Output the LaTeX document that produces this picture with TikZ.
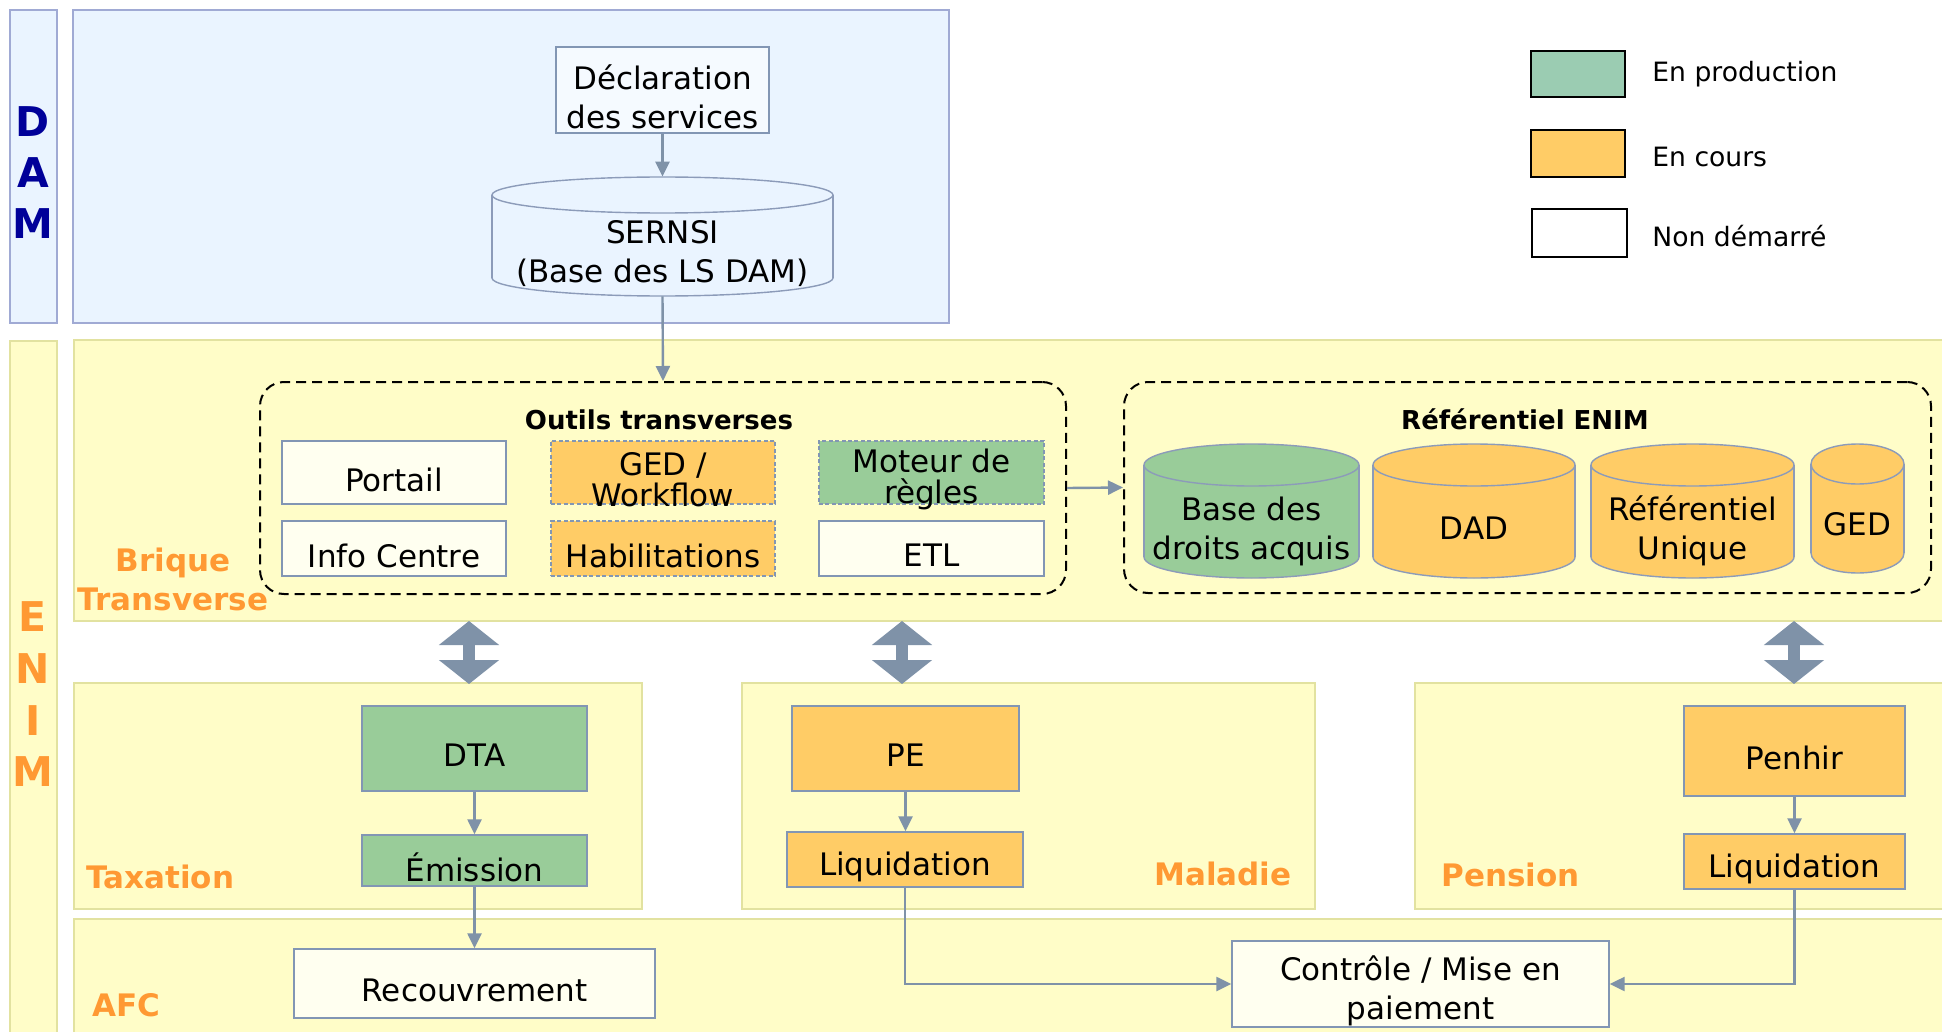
\documentclass[tikz,border=0pt]{standalone}
\usepackage{fontspec}
\setmainfont{DejaVu Sans}
\usetikzlibrary{fit,arrows.meta}
\definecolor{dambg}{RGB}{234,244,255}
\definecolor{damline}{RGB}{160,170,212}
\definecolor{declbg}{RGB}{245,250,255}
\definecolor{enimbg}{RGB}{255,253,200}
\definecolor{enimline}{RGB}{226,226,160}
\definecolor{ngreen}{RGB}{153,204,153}
\definecolor{lgreen}{RGB}{155,204,178}
\definecolor{norange}{RGB}{255,204,102}
\definecolor{ncream}{RGB}{255,255,240}
\definecolor{nline}{RGB}{130,150,180}
\definecolor{cylline}{RGB}{140,155,185}
\definecolor{arrowc}{RGB}{127,146,168}
\definecolor{lblorange}{RGB}{255,153,51}
\definecolor{damblue}{RGB}{0,0,153}
\newcommand\nodefnt{\fontsize{15.5}{19.5}\selectfont}
\newcommand\tightfnt{\fontsize{15.5}{15.5}\selectfont}
\newcommand\legfnt{\fontsize{13.3}{16}\selectfont}
\newcommand\titfnt{\bfseries\fontsize{13}{16}\selectfont}
\newcommand\lblfnt{\bfseries\fontsize{15.5}{19.5}\selectfont}
\newcommand\bigfnt{\bfseries\fontsize{20.5}{25}\selectfont}
\tikzset{
  damzone/.style={draw=damline, fill=dambg, line width=1.2pt, inner sep=0pt},
  enimzone/.style={draw=enimline, fill=enimbg, line width=0.6pt, inner sep=0pt},
  nbox/.style={draw=nline, line width=0.7pt, inner sep=0pt, align=center, font=\nodefnt},
  gbox/.style={nbox, fill=ngreen},
  obox/.style={nbox, fill=norange},
  wbox/.style={nbox, fill=ncream},
  dashedb/.style={dash pattern=on 2pt off 1.2pt},
  grp/.style={draw=black, line width=1pt, dash pattern=on 5pt off 3pt, rounded corners=12pt, inner sep=0pt},
  arr/.style={draw=arrowc, line width=1.2pt, -{Triangle[length=7.5pt,width=7pt]}},
  dblarr/.style={draw=arrowc, line width=6pt, {Triangle[length=12pt,width=29.5pt]}-{Triangle[length=12pt,width=29.5pt]}},
  lbl/.style={text=lblorange, font=\lblfnt, inner sep=0pt},
  bigletter/.style={font=\bigfnt, inner sep=0pt},
  titletext/.style={font=\titfnt, inner sep=0pt},
  legbox/.style={draw=black, line width=1pt, inner sep=0pt},
  legtxt/.style={font=\legfnt, inner sep=0pt, anchor=base west},
  cyltext/.style={font=\nodefnt, inner sep=0pt, align=center},
  plaintext/.style={draw=none, fill=none, minimum width=0pt, minimum height=0pt},
}
% rectangle node from pixel corners: style, name, x1, y1, x2, y2, text (text set 7px lower, as in the reference)
\newcommand\bx[7]{%
  \pgfmathsetmacro\bxcx{(#3+#5)/2}%
  \pgfmathsetmacro\bxcy{(#4+#6)/2}%
  \pgfmathsetmacro\bxw{(#5-#3)*0.5}%
  \pgfmathsetmacro\bxh{(#6-#4)*0.5}%
  \node[#1, minimum width=\bxw pt, minimum height=\bxh pt] (#2) at (\bxcx,\bxcy) {};%
  \node[#1, plaintext] (#2-t) at (\bxcx,{\bxcy+7}) {#7};%
}
% name, x1, x2, top-ellipse centre y, bottom-ellipse centre y, ry, fill, text y, text
\newcommand\mycyl[9]{%
  \pgfmathsetmacro\cylcx{(#2+#3)/2}%
  \pgfmathsetmacro\cylrx{(#3-#2)/2}%
  \filldraw[fill=#7, draw=cylline, line width=0.7pt] (\cylcx,#5) ellipse [x radius=\cylrx, y radius=#6];
  \fill[#7] (#2,#4) rectangle (#3,#5);
  \draw[cylline, line width=0.7pt] (#2,#4) -- (#2,#5) (#3,#4) -- (#3,#5);
  \filldraw[fill=#7, draw=cylline, line width=0.7pt] (\cylcx,#4) ellipse [x radius=\cylrx, y radius=#6];
  \node[inner sep=0pt, fit={(#2,{#4-#6}) (#3,{#5+#6})}] (#1) {};
  \node[cyltext] (#1-t) at (\cylcx,#8) {#9};
}
\begin{document}
\begin{tikzpicture}[x=0.5pt,y=-0.5pt]
\useasboundingbox (0,0) rectangle (1942,1032);
\clip (0,0) rectangle (1942,1032);
\fill[white] (0,0) rectangle (1942,1032);

% ---------- DAM ----------
\bx{damzone}{damside}{10}{10}{57}{323}{}
\node[bigletter, text=damblue] (dD) at (33,122) {D};
\node[bigletter, text=damblue] (dA) at (33,173) {A};
\node[bigletter, text=damblue] (dM) at (33,224) {M};
\bx{damzone}{dammain}{73}{10}{949}{323}{}
\bx{nbox, fill=declbg}{decl}{556}{47}{769}{133}{Déclaration\\des services}
\mycyl{sernsi}{492}{833}{195}{278}{18}{dambg}{254}{SERNSI\\(Base des LS DAM)}

% ---------- ENIM ----------
\bx{enimzone}{enimside}{10}{341}{57}{1045}{}
\node[bigletter, text=lblorange] (eE) at (33,617) {E};
\node[bigletter, text=lblorange] (eN) at (33,669) {N};
\node[bigletter, text=lblorange] (eI) at (33,721) {I};
\node[bigletter, text=lblorange] (eM) at (33,772) {M};

\bx{enimzone}{brique}{74}{340}{1950}{621}{}

% Outils transverses
\bx{grp}{outils}{260}{382}{1066}{594}{}
\node[titletext] (outilst) at (659,420) {Outils transverses};
\bx{wbox}{portail}{282}{441}{506}{504}{Portail}
\bx{obox, dashedb, font=\tightfnt}{ged}{551}{441}{775}{504}{GED /\\Workflow}
\bx{gbox, dashedb, font=\tightfnt}{moteur}{819}{441}{1044}{504}{Moteur de\\règles}
\bx{wbox}{infoc}{282}{521}{506}{576}{Info Centre}
\bx{obox, dashedb}{habil}{551}{521}{775}{576}{Habilitations}
\bx{wbox}{etl}{819}{521}{1044}{576}{ETL}

\node[lbl, align=center] (briquelbl) at (173,579) {Brique\\Transverse};

% Referentiel ENIM
\bx{grp}{referentiel}{1124}{382}{1931}{593}{}
\node[titletext] (reft) at (1525,419) {Référentiel ENIM};
\mycyl{bda}{1144}{1359}{465}{557}{21}{ngreen}{531}{Base des\\droits acquis}
\mycyl{dad}{1373}{1575}{465}{557}{21}{norange}{528}{DAD}
\mycyl{refu}{1591}{1794}{465}{557}{21}{norange}{531}{Référentiel\\Unique}
\mycyl{gedc}{1811}{1904}{464}{553}{20}{norange}{524}{GED}

% Domain areas
\bx{enimzone}{taxation}{74}{683}{642}{909}{}
\bx{enimzone}{maladie}{742}{683}{1315}{909}{}
\bx{enimzone}{pension}{1415}{683}{1950}{909}{}
\bx{enimzone}{afc}{74}{919}{1950}{1045}{}
\node[lbl, anchor=west] (taxl) at (86,877) {Taxation};
\node[lbl, anchor=east] (mall) at (1292,874) {Maladie};
\node[lbl, anchor=west] (penl) at (1441,875) {Pension};
\node[lbl, anchor=west] (afcl) at (92,1005) {AFC};

\bx{gbox}{dta}{362}{706}{587}{791}{DTA}
\bx{gbox}{emission}{362}{835}{587}{886}{Émission}
\bx{obox}{pe}{792}{706}{1019}{791}{PE}
\bx{obox}{liqm}{787}{832}{1023}{887}{Liquidation}
\bx{obox}{penhir}{1684}{706}{1905}{796}{Penhir}
\bx{obox}{liqp}{1684}{834}{1905}{889}{Liquidation}
\bx{wbox}{recouv}{294}{949}{655}{1018}{Recouvrement}
\bx{wbox}{ctrl}{1232}{941}{1609}{1027}{Contrôle / Mise en\\paiement}

% double arrows
\coordinate (da1) at (469,621); \coordinate (db1) at (469,684);
\coordinate (da2) at (902,621); \coordinate (db2) at (902,684);
\coordinate (da3) at (1794,621); \coordinate (db3) at (1794,684);
\draw[dblarr] (da1) -- (db1);
\draw[dblarr] (da2) -- (db2);
\draw[dblarr] (da3) -- (db3);

% connectors
\draw[arr] (decl.south) -- (sernsi.north);
\draw[arr] (sernsi.south) -- (outils.north);
\draw[arr] (outils.east) -- (referentiel.west);
\draw[arr] (dta) -- (emission);
\draw[arr] (emission) -- (recouv);
\draw[arr] (pe.south) -- (pe.south |- liqm.north);
\draw[arr] (liqm.south) |- (ctrl.west);
\draw[arr] (penhir) -- (liqp);
\draw[arr] (liqp.south) |- (ctrl.east);

% legend
\bx{legbox, fill=lgreen}{leg1}{1531}{51}{1625}{97}{}
\bx{legbox, fill=norange}{leg2}{1531}{130}{1625}{177}{}
\bx{legbox, fill=white}{leg3}{1532}{209}{1627}{257}{}
\node[legtxt] (leg1t) at (1652,82) {En production};
\node[legtxt] (leg2t) at (1652,167) {En cours};
\node[legtxt] (leg3t) at (1652,247) {Non démarré};
\end{tikzpicture}
\end{document}
